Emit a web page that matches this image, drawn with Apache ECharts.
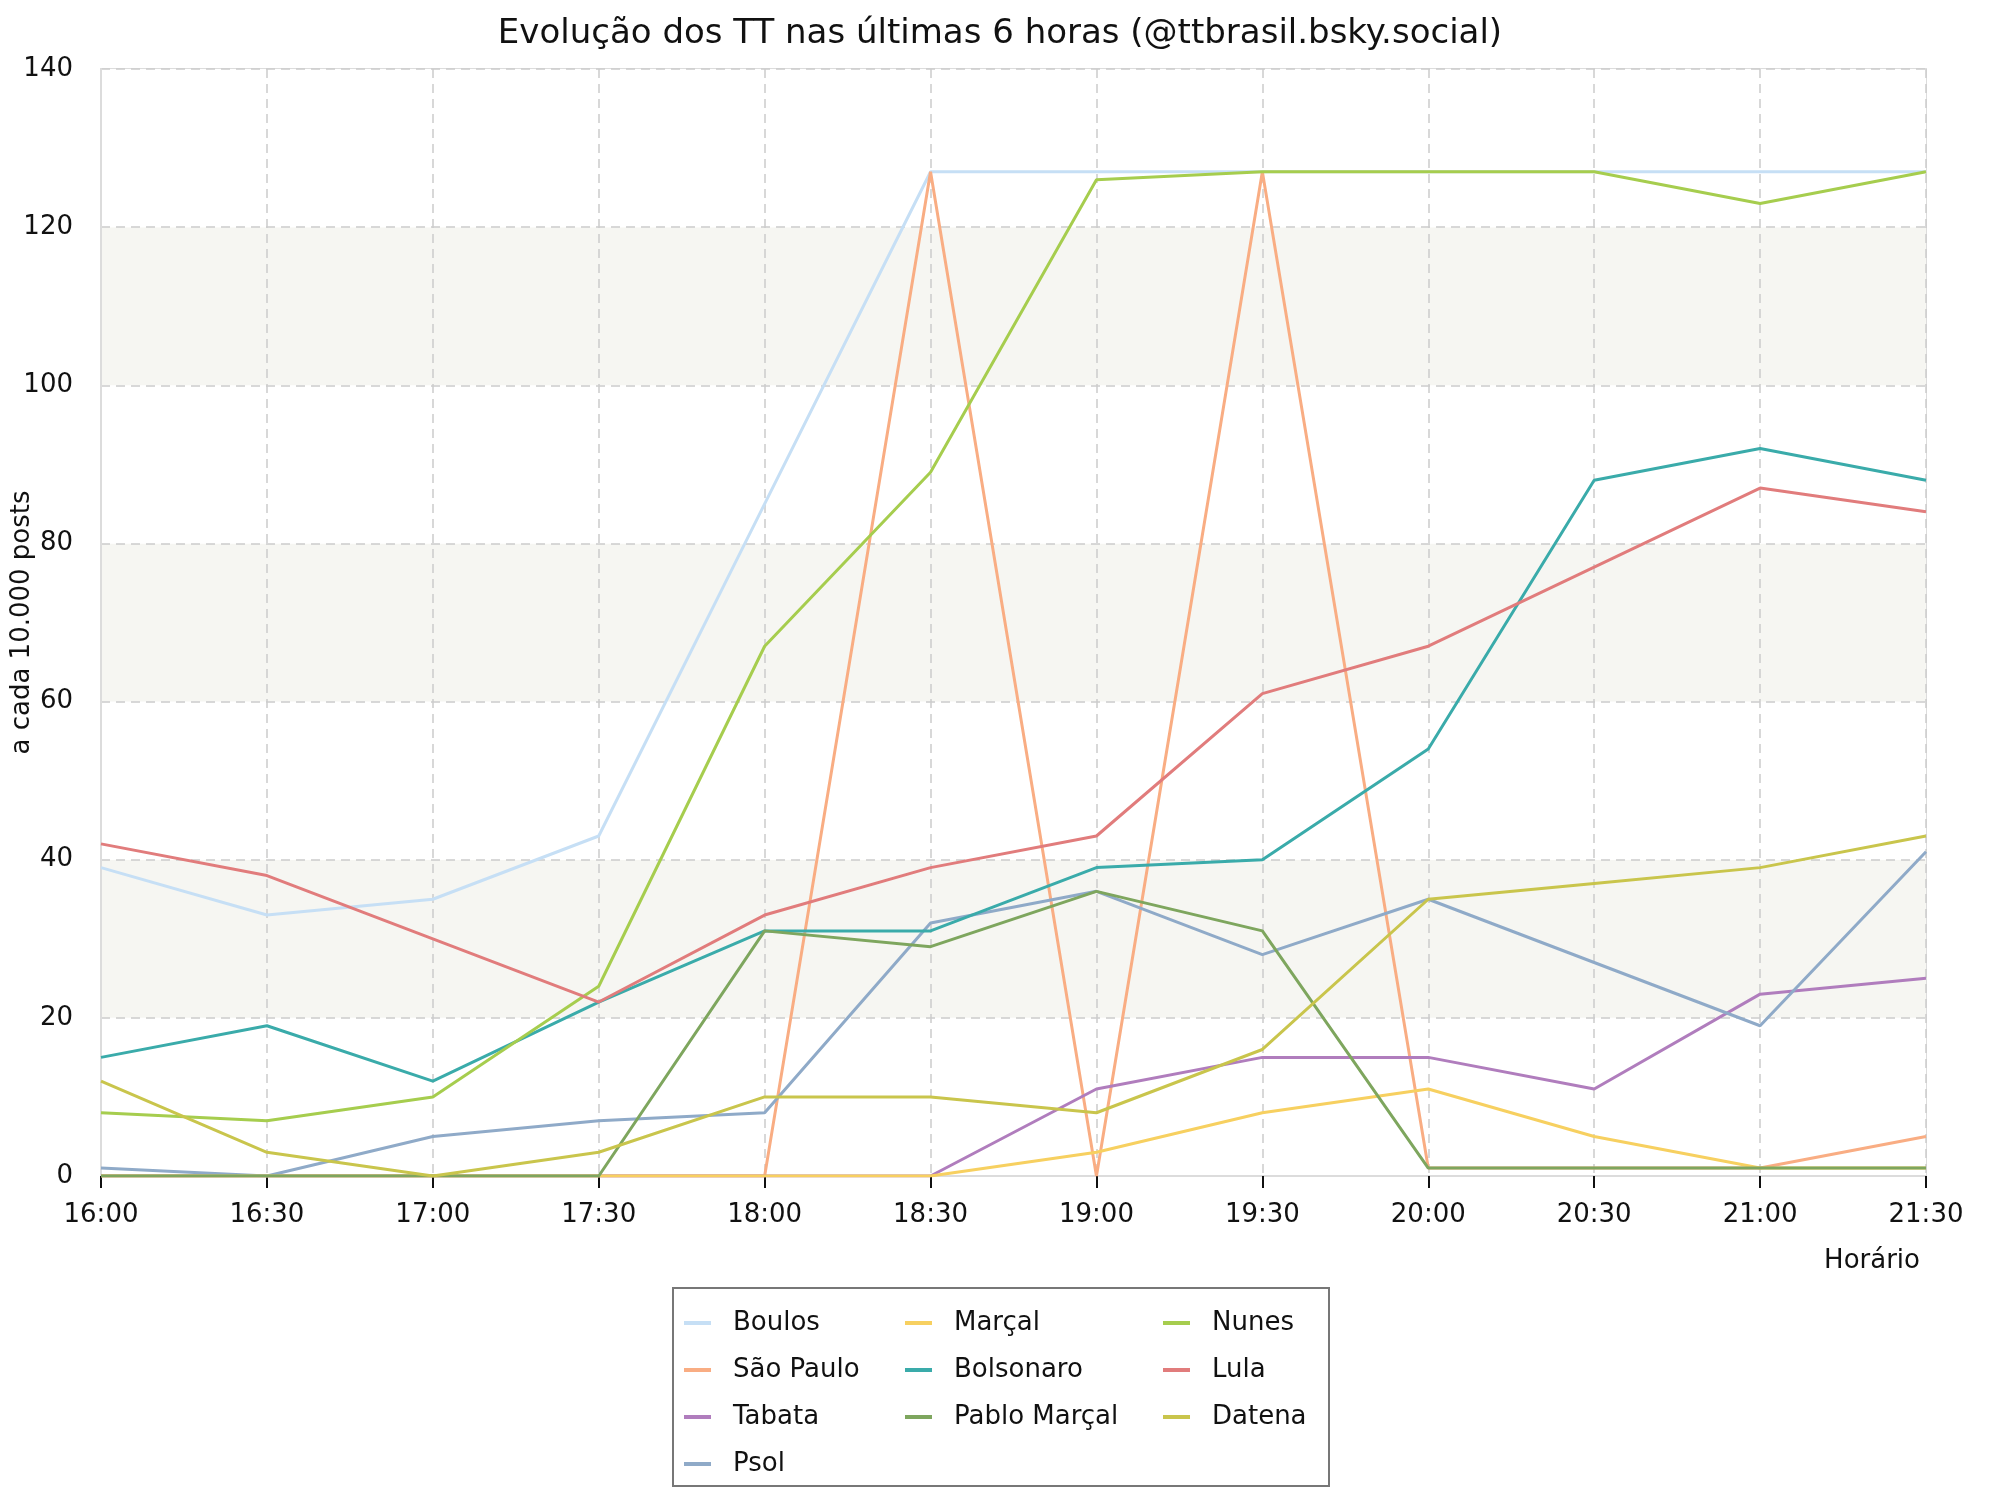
<!DOCTYPE html>
<html>
<head>
<meta charset="utf-8">
<script src="https://cdn.jsdelivr.net/npm/echarts@6/dist/echarts.min.js"></script>
<style>
html,body{margin:0;padding:0;background:#fff;}
#chart{width:2000px;height:1500px;}
</style>
</head>
<body>
<div id="chart"></div>
<script>
const categories = ["16:00","16:30","17:00","17:30","18:00","18:30","19:00","19:30","20:00","20:30","21:00","21:30"];
const boulos      = [39, 33, 35, 43, 85, 127, 127, 127, 127, 127, 127, 127];
const saoPaulo    = [0, 0, 0, 0, 0, 127, 0, 127, 1, 1, 1, 5];
const tabata      = [0, 0, 0, 0, 0, 0, 11, 15, 15, 11, 23, 25];
const psol        = [1, 0, 5, 7, 8, 32, 36, 28, 35, 27, 19, 41];
const marcal      = [0, 0, 0, 0, 0, 0, 3, 8, 11, 5, 1, 1];
const bolsonaro   = [15, 19, 12, 22, 31, 31, 39, 40, 54, 88, 92, 88];
const pabloMarcal = [0, 0, 0, 0, 31, 29, 36, 31, 1, 1, 1, 1];
const nunes       = [8, 7, 10, 24, 67, 89, 126, 127, 127, 127, 123, 127];
const lula        = [42, 38, 30, 22, 33, 39, 43, 61, 67, 77, 87, 84];
const datena      = [12, 3, 0, 3, 10, 10, 8, 16, 35, 37, 39, 43];

const seriesNames = ["Boulos","São Paulo","Tabata","Psol","Marçal","Bolsonaro","Pablo Marçal","Nunes","Lula","Datena"];
const seriesData = [boulos, saoPaulo, tabata, psol, marcal, bolsonaro, pabloMarcal, nunes, lula, datena];
const colors = ["#c6dff5","#f9ad83","#b07dbd","#8faac8","#f7d060","#3aabaa","#7ea65e","#a6cd4e","#e17c7c","#c9c54c"];
const yTicks = [0, 20, 40, 60, 80, 100, 120, 140];

const FONT = "DejaVu Sans";
const chart = echarts.init(document.getElementById('chart'), null, {renderer: 'canvas'});

const legendCommon = {
  orient: 'vertical',
  icon: 'rect',
  itemWidth: 27,
  itemHeight: 4,
  itemGap: 19,
  padding: 0,
  textStyle: {fontFamily: FONT, fontSize: 26, color: '#111', lineHeight: 28, padding: [0, 0, 0, 17]},
  selectedMode: false
};

const option = {
  animation: false,
  backgroundColor: '#fff',
  color: colors,
  title: {
    text: 'Evolução dos TT nas últimas 6 horas (@ttbrasil.bsky.social)',
    left: 'center',
    top: 12,
    textStyle: {fontFamily: FONT, fontSize: 34, fontWeight: 'normal', color: '#111'}
  },
  legend: [
    Object.assign({}, legendCommon, {left: 684, top: 1309, data: ["Boulos","São Paulo","Tabata","Psol"]}),
    Object.assign({}, legendCommon, {left: 905, top: 1309, data: ["Marçal","Bolsonaro","Pablo Marçal"]}),
    Object.assign({}, legendCommon, {left: 1163, top: 1309, data: ["Nunes","Lula","Datena"]})
  ],
  graphic: [{
    type: 'rect',
    shape: {x: 673, y: 1288, width: 656, height: 198},
    style: {fill: 'none', stroke: '#777', lineWidth: 2}
  }],
  grid: {
    left: 101, right: 74, top: 69, bottom: 324,
    containLabel: false,
    outerBoundsMode: 'none',
    show: true, borderColor: '#dcdcdc', borderWidth: 2, backgroundColor: 'transparent'
  },
  xAxis: {
    type: 'category',
    data: categories,
    boundaryGap: false,
    name: 'Horário',
    nameLocation: 'end',
    nameGap: -6,
    nameMoveOverlap: false,
    nameTextStyle: {fontFamily: FONT, fontSize: 26, color: '#111', align: 'right', verticalAlign: 'top', padding: [72, 0, 0, 0]},
    axisLine: {show: true, lineStyle: {color: '#dcdcdc', width: 2}},
    axisTick: {show: true, length: 12, lineStyle: {color: '#111', width: 2}},
    axisLabel: {fontFamily: FONT, fontSize: 26, color: '#111', margin: 26},
    splitLine: {show: true, lineStyle: {color: '#cccccc', type: [9, 6], width: 1.5}}
  },
  yAxis: {
    type: 'value',
    min: 0, max: 140, interval: 20,
    name: 'a cada 10.000 posts',
    nameLocation: 'middle',
    nameGap: 66,
    nameMoveOverlap: false,
    nameTextStyle: {fontFamily: FONT, fontSize: 26, color: '#111'},
    axisLine: {show: true, lineStyle: {color: '#dcdcdc', width: 2}},
    axisTick: {show: false},
    axisLabel: {fontFamily: FONT, fontSize: 26, color: '#111', margin: 28,
      formatter: function (v) { return yTicks.indexOf(v) >= 0 ? String(v) : ''; }},
    splitLine: {show: true, lineStyle: {color: '#cccccc', type: [9, 6], width: 1.5}},
    splitArea: {show: true, areaStyle: {color: ['#ffffff', '#f6f6f2']}}
  },
  series: seriesNames.map(function (n, i) {
    return {
      name: n,
      type: 'line',
      data: seriesData[i],
      showSymbol: false,
      symbol: 'none',
      lineStyle: {width: 3, color: colors[i]},
      itemStyle: {color: colors[i]},
      emphasis: {disabled: true}
    };
  })
};
chart.setOption(option);
</script>
</body>
</html>
